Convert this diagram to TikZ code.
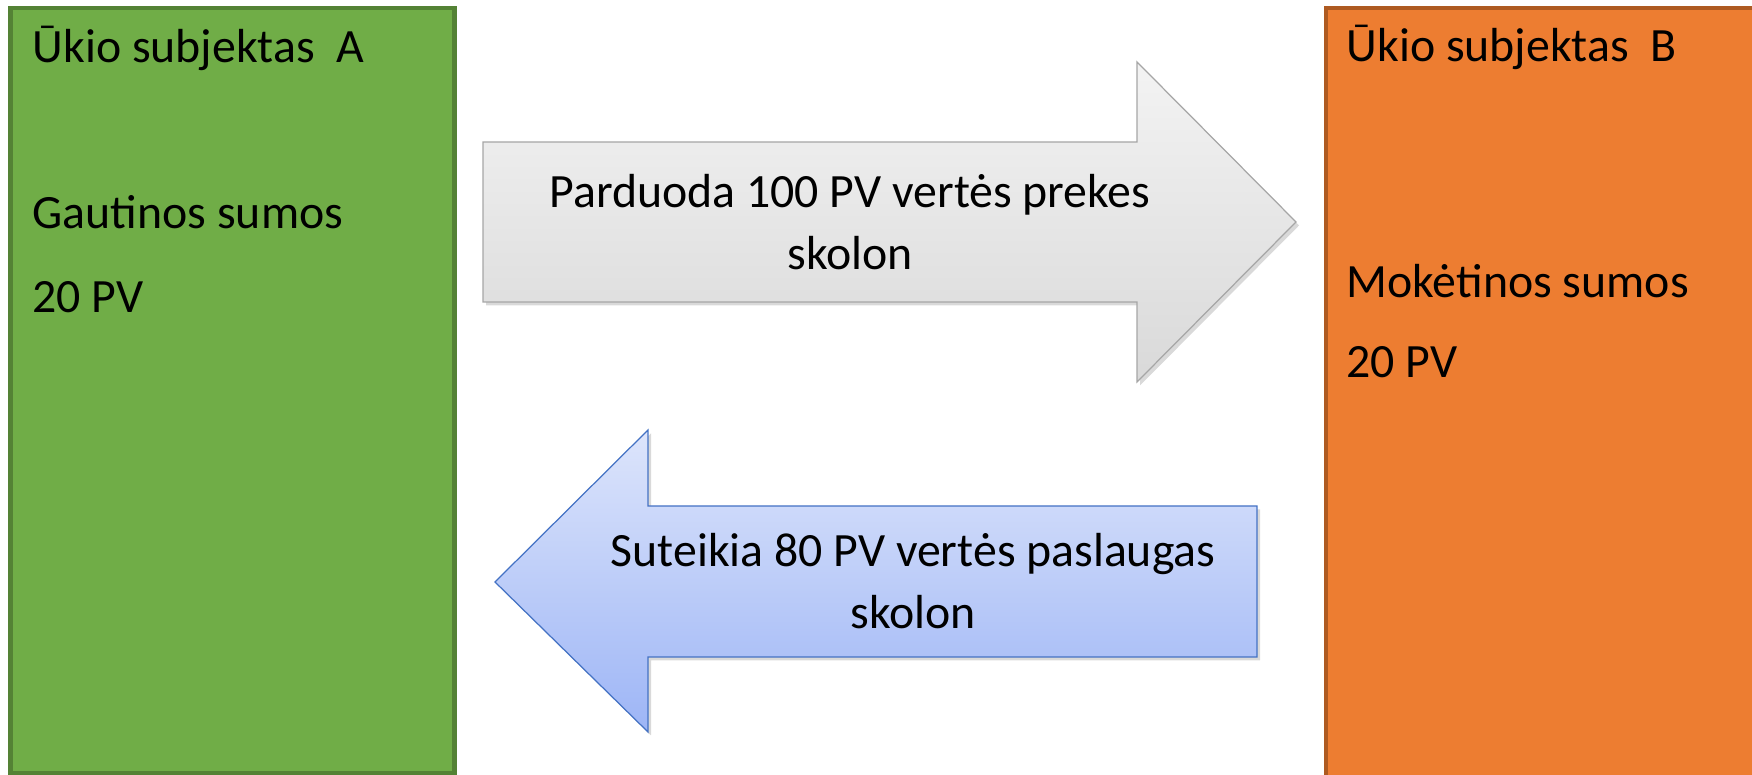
\documentclass[tikz,border=0pt]{standalone}
\usepackage{fontspec}
\setmainfont{Carlito}
\usetikzlibrary{shadows,positioning}

\definecolor{greenfill}{HTML}{70AD47}
\definecolor{greenline}{HTML}{548235}
\definecolor{orangefill}{HTML}{ED7D31}
\definecolor{orangeline}{HTML}{AE5A21}
\definecolor{greytop}{HTML}{F3F3F3}
\definecolor{greybot}{HTML}{D9D9D9}
\definecolor{greyline}{HTML}{A6A6A6}
\definecolor{bluetop}{HTML}{DDE5FB}
\definecolor{bluebot}{HTML}{9DB5F6}
\definecolor{blueline}{HTML}{4472C4}

\begin{document}
\begin{tikzpicture}[
        lbl/.style={anchor=base west, inner sep=0pt, font=\fontsize{13.6}{16.3}\selectfont},
        arrtext/.style={align=center, inner sep=0pt, font=\fontsize{13.6}{17.6}\selectfont},
        entity/.style={line width=1.15pt},
        bigarrow/.style={line width=0.35pt, drop shadow={shadow xshift=0.03cm, shadow yshift=-0.035cm, opacity=0.3}},
    ]
    \useasboundingbox (0,0) rectangle (17.52,7.75);

    % Entities A and B
    \draw[entity, draw=greenline, fill=greenfill] (0.105,0.02) rectangle (4.545,7.67);
    \draw[entity, draw=orangeline, fill=orangefill] (13.26,-0.5) rectangle (18.0,7.665);

    \node[lbl] (titleA) at (0.32,7.12) {Ūkio subjektas\ \ A};
    \node[lbl] (gautinos) at (0.32,5.46) {Gautinos sumos};
    \node[lbl] (sumA) at (0.32,4.62) {20 PV};

    \node[lbl] (titleB) at (13.46,7.13) {Ūkio subjektas\ \ B};
    \node[lbl] (moketinos) at (13.46,4.77) {Mokėtinos sumos};
    \node[lbl] (sumB) at (13.46,3.97) {20 PV};

    % A -> B: goods
    \draw[bigarrow, draw=greyline, top color=greytop, bottom color=greybot]
        (4.83,6.33) -- (11.37,6.33) -- (11.37,7.13) -- (12.96,5.53)
        -- (11.37,3.93) -- (11.37,4.73) -- (4.83,4.73) -- cycle;
    \node[arrtext] (sale) at (8.50,5.53) {Parduoda 100 PV vertės prekes\\skolon};

    % B -> A: services
    \draw[bigarrow, draw=blueline, top color=bluetop, bottom color=bluebot]
        (12.57,2.69) -- (6.48,2.69) -- (6.48,3.45) -- (4.95,1.93)
        -- (6.48,0.43) -- (6.48,1.18) -- (12.57,1.18) -- cycle;
    \node[arrtext] (service) at (9.13,1.94) {Suteikia 80 PV vertės paslaugas\\skolon};
\end{tikzpicture}
\end{document}
